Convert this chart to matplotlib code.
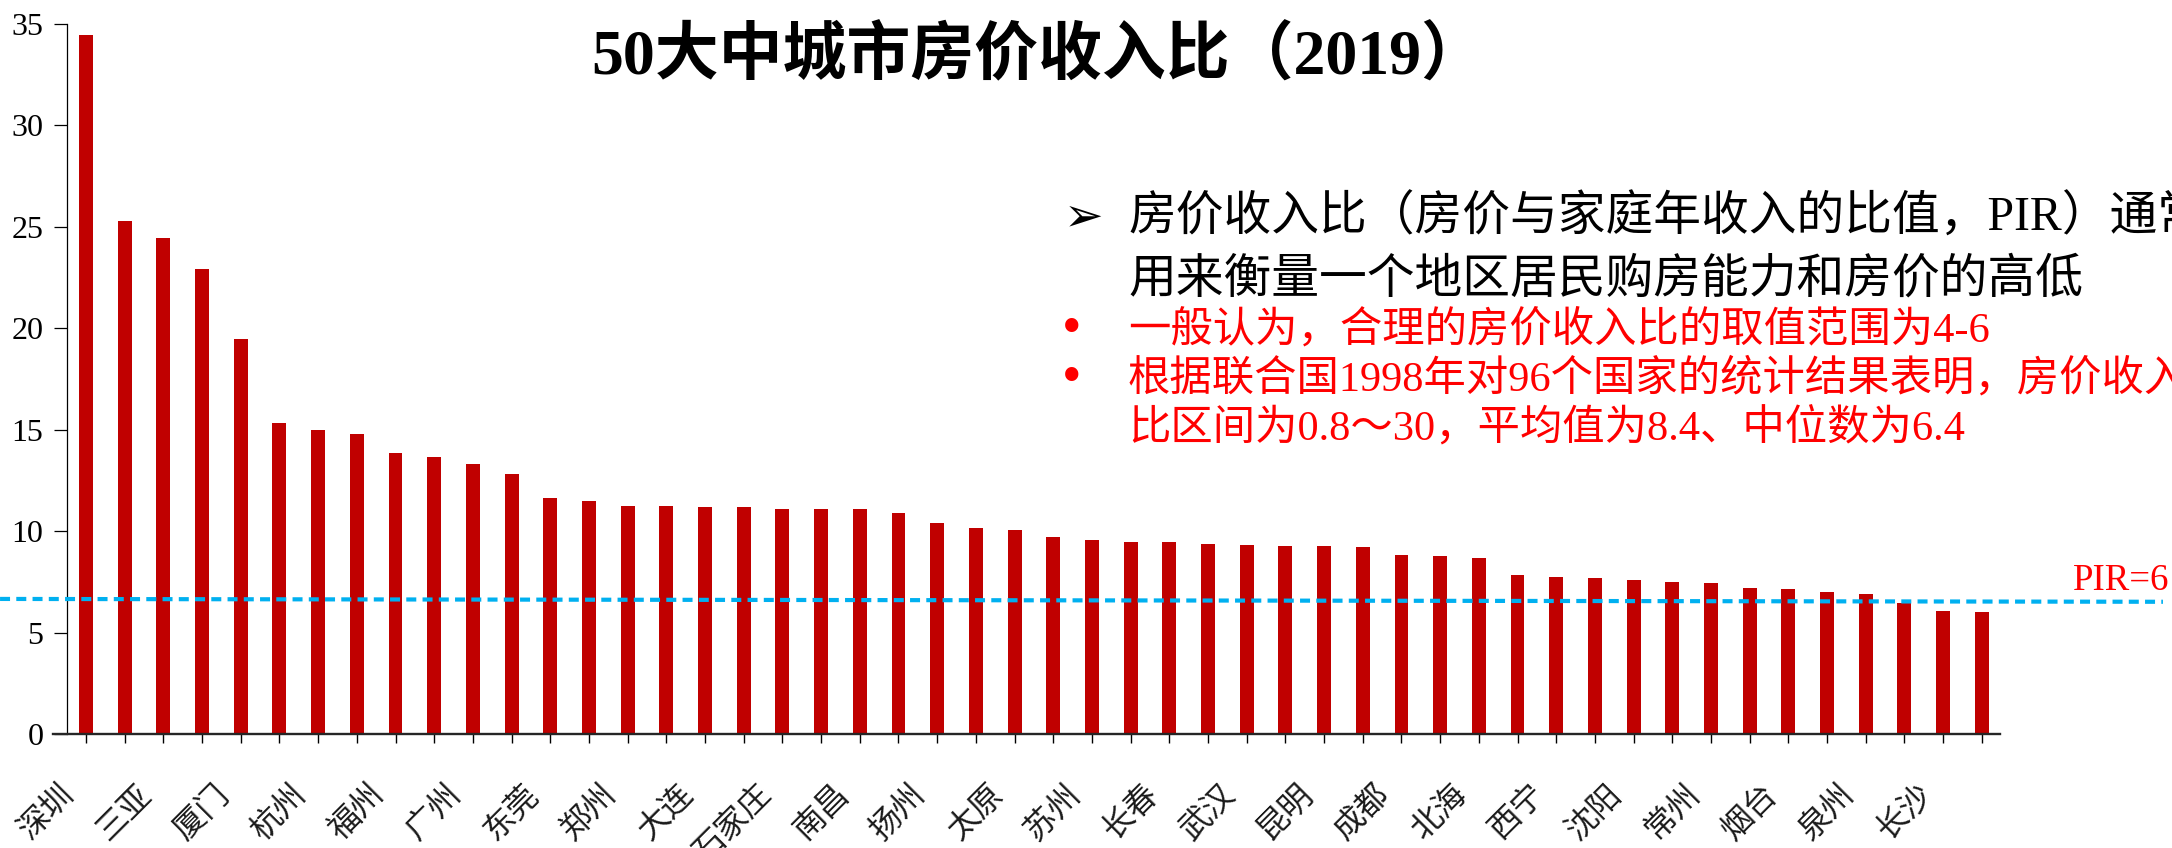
import matplotlib.pyplot as plt
from matplotlib.transforms import ScaledTranslation

# 50大中城市房价收入比（2019），按值降序；只有偶数位的城市在图上标了名字
labeled_cities = ['深圳', '三亚', '厦门', '杭州', '福州', '广州', '东莞', '郑州', '大连',
                  '石家庄', '南昌', '扬州', '太原', '苏州', '长春', '武汉', '昆明', '成都',
                  '北海', '西宁', '沈阳', '常州', '烟台', '泉州', '长沙']
pir = [34.46, 25.30, 24.44, 22.94, 19.46, 15.32, 14.97, 14.81, 13.85, 13.66,
       13.30, 12.82, 11.66, 11.52, 11.23, 11.23, 11.18, 11.18, 11.10, 11.10,
       11.10, 10.89, 10.41, 10.15, 10.08, 9.72, 9.59, 9.46, 9.46, 9.38,
       9.33, 9.30, 9.26, 9.21, 8.85, 8.79, 8.70, 7.84, 7.74, 7.70,
       7.62, 7.49, 7.44, 7.23, 7.18, 7.03, 6.93, 6.49, 6.07, 6.05]
pir_line = [6.67, 6.53]   # 虚线两端的高度（原图略有倾斜）
y_ticks = [0, 5, 10, 15, 20, 25, 30, 35]

tick_labels = []
for name in labeled_cities:
    tick_labels += [name, '']

W, H = 2172, 848
serif_cjk = ['Liberation Serif', 'Noto Sans CJK SC', 'DejaVu Sans']


def fx(px):
    return px / W


def fy(py):
    return 1 - py / H


fig = plt.figure(figsize=(W / 100, H / 100), dpi=100, facecolor='white')
ax = fig.add_axes([fx(53), fy(734.3), fx(2000 - 53), (734.3 - 24) / H])

x = range(len(pir))
ax.bar(x, pir, width=0.36, color='#C00000', zorder=2)

# PIR 参考线，横穿整个画面
ax.plot([-0.0272, 1.0837], pir_line, transform=ax.get_yaxis_transform(),
        color='#00B0F0', lw=3.0, ls=(0, (2.4, 1.5)), clip_on=False, zorder=3)

ax.set_xlim(-0.853, 49.47)
ax.set_ylim(0, 35)

ax.spines['top'].set_visible(False)
ax.spines['right'].set_visible(False)
ax.spines['left'].set_position(('data', -0.5))
ax.spines['left'].set_linewidth(0.9)
ax.spines['bottom'].set_linewidth(1.7)
ax.spines['bottom'].set_color('#262626')

ax.set_yticks(y_ticks)
ax.set_yticklabels([str(v) for v in y_ticks], family='Liberation Serif', fontsize=23)
ax.tick_params(axis='y', length=9.6, width=0.9, pad=7, direction='out')

ax.set_xticks(list(x))
ax.set_xticklabels(tick_labels, rotation=45, ha='right', family='Noto Sans CJK SC',
                   fontsize=23, color='#1a1a1a')
ax.tick_params(axis='x', length=6.5, width=1.0, pad=25, direction='out')
shift = ScaledTranslation(-5 / 100, 0, fig.dpi_scale_trans)
for lab in ax.get_xticklabels():
    lab.set_transform(lab.get_transform() + shift)

# 标题
fig.text(fx(1038), fy(58), '50大中城市房价收入比（2019）', ha='center', va='center',
         fontsize=46, fontweight='bold', family=['Liberation Serif', 'Noto Sans CJK SC'])

# 说明文字
fig.text(fx(1064), fy(218), '➢', ha='left', va='center', fontsize=34,
         family='DejaVu Sans', color='black')
fig.text(fx(1128), fy(218), '房价收入比（房价与家庭年收入的比值，PIR）通常',
         ha='left', va='center', fontsize=34.4, family=serif_cjk, color='black')
fig.text(fx(1128), fy(280), '用来衡量一个地区居民购房能力和房价的高低',
         ha='left', va='center', fontsize=34.4, family=serif_cjk, color='black')

red_lines = ['一般认为，合理的房价收入比的取值范围为4-6',
             '根据联合国1998年对96个国家的统计结果表明，房价收入',
             '比区间为0.8～30，平均值为8.4、中位数为6.4']
for i, (txt, yy) in enumerate(zip(red_lines, [330, 379, 428])):
    if i < 2:
        fig.text(fx(1072), fy(yy), '•', ha='center', va='center', fontsize=40,
                 family='Liberation Serif', color='#FF0000')
    fig.text(fx(1128), fy(yy), txt, ha='left', va='center', fontsize=30.5,
             family=serif_cjk, color='#FF0000')

fig.text(fx(2169), fy(590), 'PIR=6', ha='right', va='baseline', fontsize=26.5,
         family='Liberation Serif', color='#FF0000')

fig.savefig('out.png', dpi=100, facecolor='white')
